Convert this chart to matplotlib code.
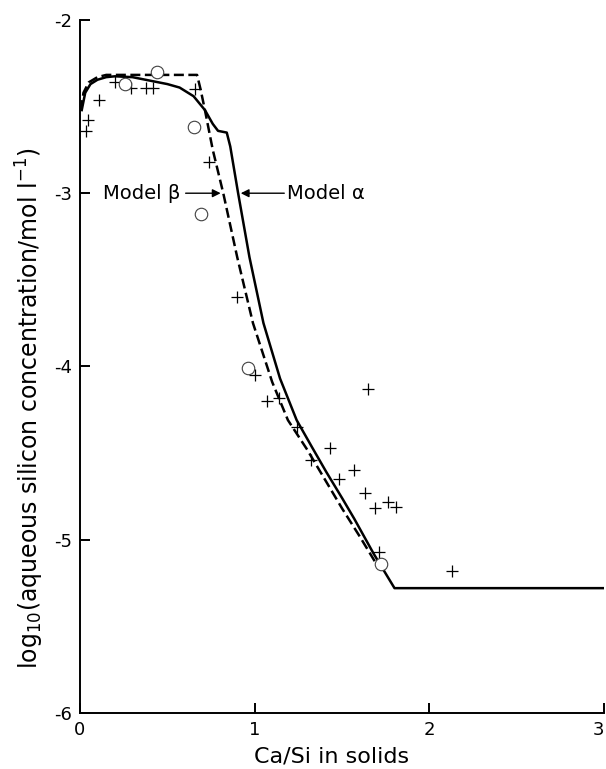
import numpy as np
import matplotlib
matplotlib.use("Agg")
import matplotlib.pyplot as plt

# Model alpha (solid curve)
alphaX = [0.01, 0.03, 0.06, 0.10, 0.15, 0.20, 0.30, 0.40, 0.50, 0.57, 0.65, 0.715, 0.76, 0.79,
          0.84, 0.86, 0.905, 0.97, 1.05, 1.145, 1.24, 1.33, 1.41, 1.50, 1.57, 1.68, 1.80, 3.00]
alphaY = [-2.52, -2.42, -2.37, -2.345, -2.33, -2.325, -2.33, -2.35, -2.37, -2.39, -2.44, -2.52, -2.60, -2.64,
          -2.65, -2.73, -3.00, -3.37, -3.75, -4.07, -4.31, -4.47, -4.61, -4.76, -4.88, -5.08, -5.28, -5.28]

# Model beta (dashed curve)
betaX = [0.005, 0.02, 0.05, 0.10, 0.15, 0.67, 0.69, 0.715, 0.76, 0.82, 0.90, 0.99, 1.10, 1.19,
         1.30, 1.40, 1.50, 1.60, 1.69]
betaY = [-2.52, -2.42, -2.36, -2.33, -2.317, -2.317, -2.40, -2.52, -2.75, -3.00, -3.37, -3.75, -4.09, -4.31,
         -4.48, -4.65, -4.82, -4.98, -5.13]

# measured points: crosses
crossX = [0.034, 0.046, 0.107, 0.20, 0.29, 0.38, 0.42, 0.66, 0.74, 0.90, 1.00, 1.07, 1.14, 1.24,
          1.32, 1.43, 1.48, 1.57, 1.63, 1.65, 1.69, 1.71, 1.76, 1.81, 2.13]
crossY = [-2.64, -2.58, -2.46, -2.36, -2.39, -2.39, -2.39, -2.40, -2.82, -3.60, -4.05, -4.20, -4.18, -4.35,
          -4.54, -4.47, -4.65, -4.60, -4.73, -4.13, -4.82, -5.07, -4.78, -4.81, -5.18]

# measured points: circles
circleX = [0.26, 0.44, 0.65, 0.69, 0.96, 1.72]
circleY = [-2.37, -2.30, -2.62, -3.12, -4.01, -5.14]

fig = plt.figure(figsize=(6.06, 7.69), dpi=100)
ax = fig.add_axes([0.132, 0.073, 0.865, 0.901])

ax.plot(alphaX, alphaY, color='black', linewidth=1.8)
ax.plot(betaX, betaY, color='black', linewidth=1.8, linestyle=(0, (4, 1.8)))
ax.plot(crossX, crossY, linestyle='none', marker='+', markersize=8, markeredgewidth=0.9, color='black')
ax.plot(circleX, circleY, linestyle='none', marker='o', markersize=9, markerfacecolor='white',
        markeredgewidth=0.8, markeredgecolor='0.25')

ax.annotate('Model β', xy=(0.805, -3.0), xytext=(0.13, -3.0), va='center', ha='left', fontsize=14,
            arrowprops=dict(arrowstyle='-|>', color='black', lw=1, shrinkA=2, shrinkB=0, mutation_scale=12))
ax.annotate('Model α', xy=(0.92, -3.0), xytext=(1.185, -3.0), va='center', ha='left', fontsize=14,
            arrowprops=dict(arrowstyle='-|>', color='black', lw=1, shrinkA=0, shrinkB=0, mutation_scale=12))

ax.set_xlim(0, 3)
ax.set_ylim(-6, -2)
ax.set_xticks([0, 1, 2, 3])
ax.set_yticks([-6, -5, -4, -3, -2])
ax.set_yticklabels(['-6', '-5', '-4', '-3', '-2'])

for s in ['top', 'right']:
    ax.spines[s].set_visible(False)
for s in ['left', 'bottom']:
    ax.spines[s].set_linewidth(1.4)

ax.tick_params(direction='in', length=7, width=1.4, labelsize=13, pad=6)
ax.get_xticklabels()[-1].set_horizontalalignment('right')

ax.set_xlabel('Ca/Si in solids', fontsize=16)
ax.set_ylabel('log$_{10}$(aqueous silicon concentration/mol l$^{-1}$)', fontsize=17)
ax.xaxis.set_label_coords(0.479, -0.049)
ax.yaxis.set_label_coords(-0.064, 0.44)

plt.savefig("out.png", dpi=100)
